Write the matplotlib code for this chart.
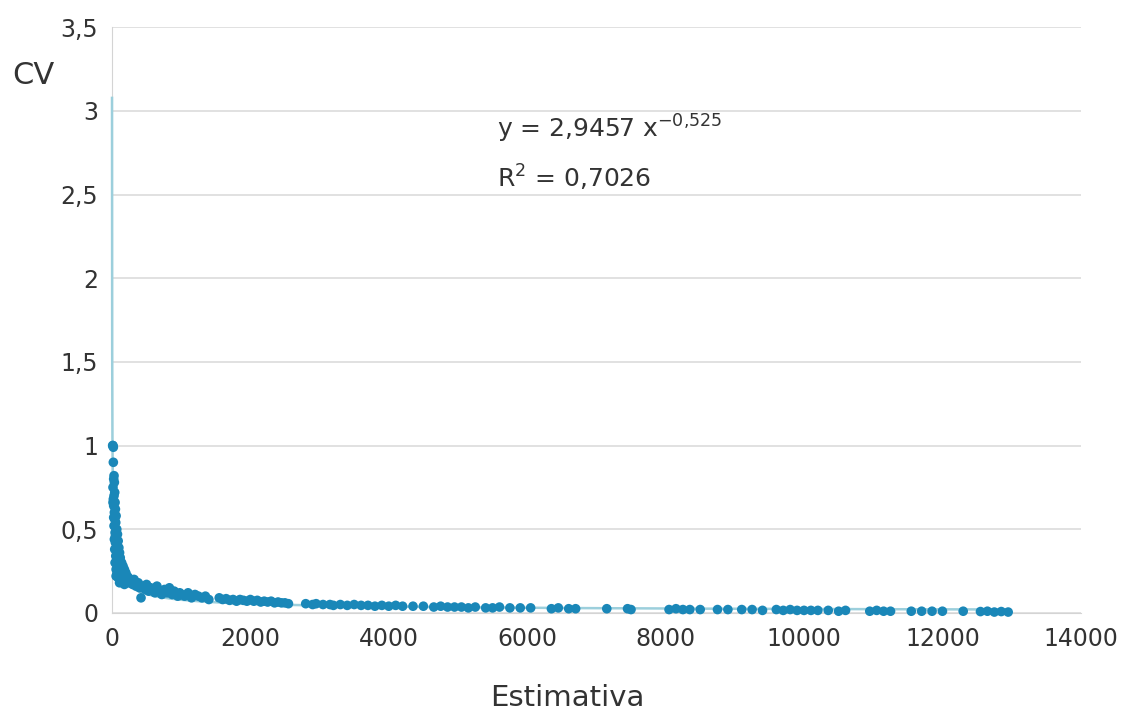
import numpy as np
import matplotlib
matplotlib.use('Agg')
import matplotlib.pyplot as plt
from matplotlib.ticker import FuncFormatter

plt.rcParams['font.family'] = ['DejaVu Sans']

# points: (Estimativa, CV)
head_x = [10, 15, 20, 20, 30, 25, 35, 15, 40, 30, 20, 45, 25, 50, 35, 60, 40, 55, 30, 70,
          45, 80, 60, 35, 90, 50, 75, 100, 40, 65, 110, 85, 55, 120, 95, 70, 140, 45, 110,
          160, 80, 130, 60, 180, 100, 150, 200, 70, 120, 220, 170, 90, 250, 140, 60, 200,
          280, 110, 230, 300, 180, 25, 15, 50, 75, 130, 160, 190, 240, 270]
head_y = [1.0, 1.0, 0.99, 0.9, 0.82, 0.8, 0.78, 0.75, 0.72, 0.7, 0.68, 0.66, 0.64, 0.62,
          0.6, 0.58, 0.56, 0.54, 0.52, 0.5, 0.48, 0.47, 0.45, 0.44, 0.43, 0.42, 0.4, 0.39,
          0.38, 0.37, 0.36, 0.35, 0.34, 0.33, 0.32, 0.31, 0.3, 0.3, 0.29, 0.28, 0.28, 0.27,
          0.26, 0.26, 0.25, 0.24, 0.24, 0.23, 0.22, 0.22, 0.21, 0.21, 0.2, 0.2, 0.22, 0.19,
          0.19, 0.18, 0.18, 0.17, 0.17, 0.57, 0.66, 0.46, 0.33, 0.25, 0.23, 0.2, 0.21, 0.18]

mid_x = [320, 350, 380, 400, 420, 450, 480, 500, 530, 560, 600, 620, 650, 700, 720, 760,
         800, 830, 870, 900, 950, 980, 1000, 1050, 1100, 1150, 1200, 1250, 1300, 1350,
         1400, 1550, 1600, 1650, 1700, 1750, 1800, 1850, 1900, 1950, 2000, 2050, 2100,
         2150, 2200, 2250, 2300, 2350, 2400, 2450, 2500, 2550]
mid_y = [0.2, 0.16, 0.18, 0.15, 0.09, 0.16, 0.14, 0.17, 0.13, 0.15, 0.14, 0.12, 0.16,
         0.13, 0.11, 0.14, 0.12, 0.15, 0.11, 0.13, 0.1, 0.12, 0.11, 0.1, 0.12, 0.09, 0.11,
         0.1, 0.09, 0.1, 0.08, 0.09, 0.08, 0.085, 0.075, 0.08, 0.07, 0.08, 0.075, 0.07,
         0.08, 0.07, 0.075, 0.065, 0.07, 0.065, 0.07, 0.06, 0.065, 0.06, 0.06, 0.055]

tail_x = [2800, 2900, 2950, 3050, 3150, 3200, 3300, 3400, 3500, 3600, 3700, 3800, 3900,
          4000, 4100, 4200, 4350, 4500, 4650, 4750, 4850, 4950, 5050, 5150, 5250, 5400,
          5500, 5600, 5750, 5900, 6050, 6350, 6450, 6600, 6700, 7150, 7450, 7500, 8050,
          8150, 8250, 8350, 8500, 8750, 8900, 9100, 9250, 9400, 9600, 9700, 9800, 9900,
          10000, 10100, 10200, 10350, 10500, 10600, 10950, 11050, 11150, 11250, 11550,
          11700, 11850, 12000, 12300, 12550, 12650, 12750, 12850, 12950]
tail_y = [0.055, 0.05, 0.055, 0.05, 0.05, 0.045, 0.05, 0.045, 0.05, 0.045, 0.045, 0.04,
          0.045, 0.04, 0.045, 0.04, 0.04, 0.04, 0.035, 0.04, 0.035, 0.035, 0.035, 0.03,
          0.035, 0.03, 0.03, 0.035, 0.03, 0.03, 0.03, 0.025, 0.03, 0.025, 0.025, 0.025,
          0.025, 0.02, 0.02, 0.025, 0.02, 0.02, 0.02, 0.02, 0.02, 0.02, 0.02, 0.015, 0.02,
          0.015, 0.02, 0.015, 0.015, 0.015, 0.015, 0.015, 0.01, 0.015, 0.01, 0.015, 0.01,
          0.01, 0.01, 0.01, 0.01, 0.01, 0.01, 0.008, 0.01, 0.005, 0.008, 0.005]

# power trendline shown on the chart
coef_a = 2.9457
coef_b = -0.525
x_range = (0.92, 12950)

xticks = [0, 2000, 4000, 6000, 8000, 10000, 12000, 14000]
yticks = [0, 0.5, 1, 1.5, 2, 2.5, 3, 3.5]

est = head_x + mid_x + tail_x
cv = head_y + mid_y + tail_y

fig = plt.figure(figsize=(11.24, 7.16), dpi=100)
ax = fig.add_axes([0.0996, 0.144, 0.862, 0.818])

xt = np.geomspace(x_range[0], x_range[1], 600)
ax.plot(xt, coef_a * xt ** coef_b, color='#9ccfdc', lw=1.8, zorder=2.7, clip_on=False)
ax.scatter(est, cv, s=48, color='#1a87b8', edgecolors='none', zorder=3, clip_on=False)

ax.set_xlim(0, 14000)
ax.set_ylim(0, 3.5)
ax.set_xticks(xticks)
ax.set_yticks(yticks)
ax.yaxis.set_major_formatter(FuncFormatter(lambda v, p: ('%g' % v).replace('.', ',')))
ax.tick_params(length=0, labelsize=17, labelcolor='#333333', pad=10)
ax.grid(axis='y', color='#dcdcdc', lw=1.2)
ax.set_axisbelow(True)
for s in ['top', 'right']:
    ax.spines[s].set_visible(False)
ax.spines['left'].set_color('#d4d4d4')
ax.spines['bottom'].set_color('#d4d4d4')

fig.text(0.505, 0.025, 'Estimativa', fontsize=21, color='#333333', ha='center', va='center')
fig.text(0.011, 0.895, 'CV', fontsize=22, color='#333333', va='center')
ax.text(5560, 2.84, r'y = 2,9457 x$^{\mathregular{-0{,}525}}$', fontsize=18, color='#333333')
ax.text(5560, 2.54, r'R$^{\mathregular{2}}$ = 0,7026', fontsize=18, color='#333333')

fig.savefig('out.png', dpi=100)
